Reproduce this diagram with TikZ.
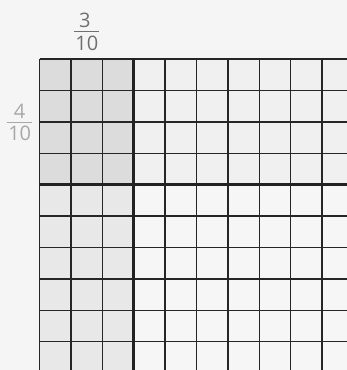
\documentclass[tikz,border=0pt]{standalone}
\usepackage{fontspec}
\setmainfont{Open Sans}
\definecolor{bg}{HTML}{F5F5F5}
\definecolor{tl}{HTML}{DCDCDC}
\definecolor{bl}{HTML}{E8E8E8}
\definecolor{tr}{HTML}{F0F0F0}
\definecolor{br}{HTML}{F6F6F6}
\definecolor{gridc}{HTML}{262626}
\definecolor{labA}{HTML}{707070}
\definecolor{labB}{HTML}{A8A8A8}
\begin{document}
\begin{tikzpicture}[x=1pt,y=-1pt,
  gridline/.style={draw=gridc,line width=1.4pt},
  thickline/.style={draw=gridc!90!black,line width=3.2pt},
  numtext/.style={font=\fontsize{20}{20}\selectfont,inner sep=0pt,anchor=center}]
\def\s{31.4}
\def\xo{39.5}
\def\yo{59}
\fill[bg] (0,0) rectangle (347,370);
\useasboundingbox (0,0) rectangle (347,370);
\begin{scope}
\clip (0,0) rectangle (347,370);
\fill[tl] (\xo,\yo) rectangle ({\xo+3*\s},{\yo+4*\s});
\fill[bl] (\xo,{\yo+4*\s}) rectangle ({\xo+3*\s},370);
\fill[tr] ({\xo+3*\s},\yo) rectangle (347,{\yo+4*\s});
\fill[br] ({\xo+3*\s},{\yo+4*\s}) rectangle (347,370);
\foreach \i in {0,1,2,4,5,6,7,8,9,10}
  \draw[gridline] ({\xo+\i*\s},\yo) -- ({\xo+\i*\s},{\yo+10*\s});
\foreach \j in {0,1,2,3,5,6,7,8,9,10}
  \draw[gridline] (\xo,{\yo+\j*\s}) -- ({\xo+10*\s},{\yo+\j*\s});
\draw[thickline] ({\xo+3*\s},\yo-0.7) -- ({\xo+3*\s},{\yo+10*\s});
\draw[thickline] (\xo-0.7,{\yo+4*\s}) -- ({\xo+10*\s},{\yo+4*\s});
\end{scope}
% label 3/10
\node[numtext,text=labA] (n3) at (84.8,20) {3};
\node[numtext,text=labA] (d3) at (86.8,43.2) {10};
\coordinate (b3l) at (74,31);
\coordinate (b3r) at (99,31);
\draw[labA,line width=1pt] (b3l) -- (b3r);
% label 4/10
\node[numtext,text=labB] (n4) at (19.5,111) {4};
\node[numtext,text=labB] (d4) at (19.7,133.5) {10};
\coordinate (b4l) at (6.7,122);
\coordinate (b4r) at (31.7,122);
\draw[labB,line width=1pt] (b4l) -- (b4r);
\end{tikzpicture}
\end{document}
